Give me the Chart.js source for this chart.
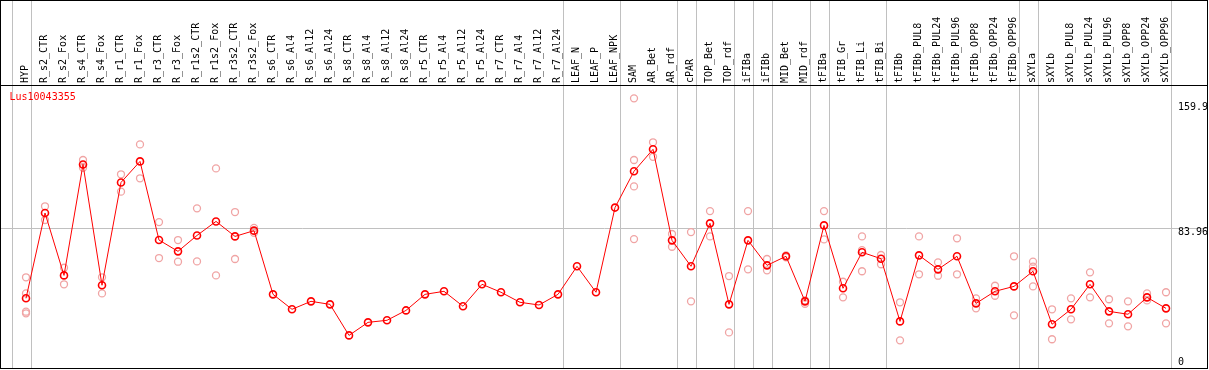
<!DOCTYPE html>
<html>
<head>
<meta charset="utf-8">
<script src="https://cdn.jsdelivr.net/npm/chart.js@4.4.1/dist/chart.umd.min.js"></script>
<style>
  body { margin: 0; background: #fff; }
  canvas { display: block; }
</style>
</head>
<body>
<canvas id="geneChart" width="1209" height="370"></canvas>
<script>
const geneName = 'Lus10043355';

const categories = [
    'HYP', 'R_s2_CTR', 'R_s2_Fox', 'R_s4_CTR', 'R_s4_Fox', 'R_r1_CTR', 'R_r1_Fox', 'R_r3_CTR', 'R_r3_Fox',
    'R_r1s2_CTR', 'R_r1s2_Fox', 'R_r3s2_CTR', 'R_r3s2_Fox', 'R_s6_CTR', 'R_s6_Al4', 'R_s6_Al12', 'R_s6_Al24',
    'R_s8_CTR', 'R_s8_Al4', 'R_s8_Al12', 'R_s8_Al24', 'R_r5_CTR', 'R_r5_Al4', 'R_r5_Al12', 'R_r5_Al24',
    'R_r7_CTR', 'R_r7_Al4', 'R_r7_Al12', 'R_r7_Al24', 'LEAF_N', 'LEAF_P', 'LEAF_NPK', 'SAM', 'AR_Bet', 'AR_rdf',
    'cPAR', 'TOP_Bet', 'TOP_rdf', 'iFIBa', 'iFIBb', 'MID_Bet', 'MID_rdf', 'tFIBa', 'tFIB_Gr', 'tFIB_Li', 'tFIB_Bi',
    'tFIBb', 'tFIBb_PUL8', 'tFIBb_PUL24', 'tFIBb_PUL96', 'tFIBb_OPP8', 'tFIBb_OPP24', 'tFIBb_OPP96',
    'sXYLa', 'sXYLb', 'sXYLb_PUL8', 'sXYLb_PUL24', 'sXYLb_PUL96', 'sXYLb_OPP8', 'sXYLb_OPP24', 'sXYLb_OPP96'
];

// media das replicas (linha vermelha)
const meanValues = [
    40.0, 93.6, 54.4, 124.1, 48.2, 112.8, 126.0, 76.6, 69.5,
    79.5, 88.3, 78.9, 82.5, 42.5, 33.1, 38.1, 36.2,
    16.7, 24.9, 26.2, 32.4, 42.5, 44.4, 35.0, 48.8,
    43.8, 37.5, 35.8, 42.5, 60.1, 43.8, 97.0, 119.8, 133.6, 76.4,
    60.1, 87.1, 36.2, 76.4, 60.7, 66.4, 38.1, 85.8, 46.3, 68.9, 64.9,
    25.5, 67.0, 58.2, 66.4, 36.8, 44.4, 47.5,
    57.0, 23.7, 33.1, 48.8, 31.8, 30.0, 40.6, 33.7
];

// replicas individuais (circulos rosa)
const replicateValues = [
    [53.2, 43.1, 31.6, 30.6], [97.8, 89.2], [59.2, 48.8], [126.9, 122.0], [53.2, 43.1],
    [117.9, 107.0], [136.7, 115.4], [87.9, 65.3], [76.6, 63.0],
    [96.5, 63.2], [121.6, 54.4], [94.2, 64.7], [84.2, 81.2], [], [], [], [],
    [], [], [], [], [], [], [], [],
    [], [], [], [], [], [], [], [165.6, 126.9, 110.3, 77.2], [138.0, 128.9], [80.4, 72.4],
    [81.6, 38.1], [94.8, 78.9], [54.0, 18.6], [94.8, 58.2], [64.7, 57.6], [67.0, 65.8], [38.7, 36.6],
    [94.8, 77.0], [50.4, 40.6], [78.9, 70.3, 57.0], [67.2, 61.4],
    [37.5, 13.6], [78.9, 55.1], [62.6, 54.2], [77.7, 55.1], [40.0, 33.7], [47.9, 41.6], [66.4, 29.3],
    [63.0, 59.9, 47.5], [33.1, 14.3], [40.0, 26.8], [56.3, 40.6], [39.4, 24.3], [38.1, 22.4], [43.1, 38.7], [43.8, 24.3]
];

const yTickValues = [0, 83.96, 159.9];
const yGridValue = 83.96;

// separadores de grupo: linha cinza logo depois destes indices
const separatorsAfter = [-1, 0, 28, 31, 34, 35, 37, 38, 39, 41, 42, 45, 52, 53, 60];
const separatorShift = 0.24;

const monoFont = '"DejaVu Sans Mono", "Liberation Mono", monospace';

const meanPoints = meanValues.map((v, i) => ({ x: i, y: v }));
const replicatePoints = replicateValues.flatMap((reps, i) => reps.map(v => ({ x: i, y: v })));

const decorPlugin = {
    id: 'decor',
    beforeDraw(chart) {
        const { ctx, chartArea, scales: { x, y } } = chart;
        ctx.save();
        ctx.strokeStyle = '#c0c0c0';
        ctx.lineWidth = 1;
        separatorsAfter.forEach(i => {
            const px = Math.round(x.getPixelForValue(i + separatorShift)) + 0.5;
            ctx.beginPath();
            ctx.moveTo(px, 0);
            ctx.lineTo(px, chartArea.bottom);
            ctx.stroke();
        });
        const gy = Math.round(y.getPixelForValue(yGridValue)) + 0.5;
        ctx.beginPath();
        ctx.moveTo(chartArea.left, gy);
        ctx.lineTo(chartArea.right, gy);
        ctx.stroke();
        ctx.restore();
    },
    afterDraw(chart) {
        const { ctx, chartArea, scales: { y } } = chart;
        ctx.save();
        // moldura e linha do cabecalho
        ctx.strokeStyle = '#000';
        ctx.lineWidth = 1;
        ctx.strokeRect(0.5, 0.5, chartArea.right - 1, chartArea.bottom - 1);
        ctx.beginPath();
        ctx.moveTo(0, chartArea.top + 0.5);
        ctx.lineTo(chartArea.right, chartArea.top + 0.5);
        ctx.stroke();

        ctx.font = '10px ' + monoFont;
        ctx.textBaseline = 'middle';
        ctx.textAlign = 'left';
        ctx.fillStyle = '#ff0000';
        ctx.fillText(geneName, chartArea.left + 8.5, chartArea.top + 12.5);

        ctx.fillStyle = '#000';
        yTickValues.forEach(v => {
            const py = y.getPixelForValue(v);
            ctx.fillText(String(v), chartArea.right - 30, py + (v === yGridValue ? 4 : 0));
        });
        ctx.restore();
    }
};

new Chart(document.getElementById('geneChart'), {
    type: 'scatter',
    data: {
        datasets: [
            {
                label: geneName,
                data: meanPoints,
                showLine: true,
                borderColor: '#ff0000',
                borderWidth: 1,
                pointRadius: 3.5,
                pointBorderWidth: 1.6,
                pointBorderColor: '#ff0000',
                pointBackgroundColor: 'rgba(0,0,0,0)',
                tension: 0,
                order: 1
            },
            {
                label: 'replicas',
                data: replicatePoints,
                showLine: false,
                pointRadius: 3.5,
                pointBorderWidth: 1.3,
                pointBorderColor: '#f0a4a4',
                pointBackgroundColor: 'rgba(0,0,0,0)',
                order: 2
            }
        ]
    },
    options: {
        responsive: false,
        animation: false,
        devicePixelRatio: 1,
        layout: { autoPadding: false, padding: { left: 1, right: 1, bottom: 1 } },
        plugins: {
            legend: { display: false },
            tooltip: { enabled: false }
        },
        scales: {
            x: {
                type: 'linear',
                position: 'top',
                min: -1.316,
                max: 62.21,
                afterBuildTicks: axis => { axis.ticks = categories.map((c, i) => ({ value: i })); },
                afterFit: axis => {
                    axis.height = 85;
                    axis.paddingLeft = 0;
                    axis.paddingRight = 0;
                },
                grid: { display: false, drawTicks: false },
                border: { display: false },
                ticks: {
                    autoSkip: false,
                    minRotation: 90,
                    maxRotation: 90,
                    padding: 2,
                    labelOffset: 11,
                    color: '#000',
                    font: { family: monoFont, size: 10 },
                    callback: value => categories[value]
                }
            },
            y: {
                display: false,
                min: -4.4,
                max: 174.0
            }
        }
    },
    plugins: [decorPlugin]
});
</script>
</body>
</html>
